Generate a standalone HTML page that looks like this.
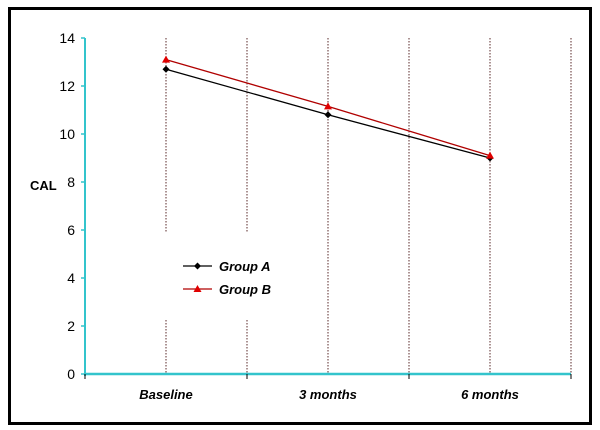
<!DOCTYPE html>
<html><head><meta charset="utf-8"><style>
body{margin:0;background:#fff;}
svg{display:block;font-family:"Liberation Sans",Arial,sans-serif;}
</style></head><body>
<svg width="600" height="430" viewBox="0 0 600 430" xmlns="http://www.w3.org/2000/svg">
<rect x="9.5" y="8.5" width="581" height="415" fill="#fff" stroke="#000" stroke-width="3"/>
<g id="grid"></g>
<rect x="156" y="233" width="102" height="87" fill="#fff"/>
<g id="axes"></g>
<g id="series"></g>
<text x="30" y="190" font-size="13" font-weight="bold">CAL</text>
<g>
  <line x1="183" y1="266" x2="212" y2="266" stroke="#000" stroke-width="1.3"/>
  <path d="M197.5 262.5 L201 266 L197.5 269.5 L194 266 Z" fill="#000"/>
  <text x="219" y="271" font-size="13" font-weight="bold" font-style="italic">Group A</text>
  <line x1="183" y1="289" x2="212" y2="289" stroke="#b00000" stroke-width="1.3"/>
  <path d="M197.5 285 L201.5 292 L193.5 292 Z" fill="#e00000"/>
  <text x="219" y="294" font-size="13" font-weight="bold" font-style="italic">Group B</text>
</g>
</svg>
<script>
const categories = ["Baseline", "3 months", "6 months"];
const groupA = [12.7, 10.8, 9.0];
const groupB = [13.1, 11.15, 9.1];
const yTicks = [0, 2, 4, 6, 8, 10, 12, 14];

const NS = "http://www.w3.org/2000/svg";
const x0 = 85, x1 = 571, y0 = 374, y1 = 38, yMax = 14;
const band = (x1 - x0) / categories.length;
const xPos = i => x0 + band * (i + 0.5);
const yPos = v => y0 - (v / yMax) * (y0 - y1);
function mk(tag, attrs, parent) {
  const e = document.createElementNS(NS, tag);
  for (const k in attrs) e.setAttribute(k, attrs[k]);
  parent.appendChild(e);
  return e;
}
const grid = document.getElementById('grid');
const axes = document.getElementById('axes');
const series = document.getElementById('series');

for (let i = 0; i <= categories.length * 2; i++) {
  const x = x0 + band / 2 * i;
  if (i === 0) continue;
  const l = mk('line', {x1: x, y1: y1, x2: x, y2: y0, stroke: '#5a2a2a', 'stroke-width': 1, 'stroke-dasharray': '1.5,1.5'}, grid);
  
  
}

const ya = mk('line', {x1: x0, y1: y1, x2: x0, y2: y0 + 2, stroke: '#33c4cc', 'stroke-width': 2}, axes);


const xa = mk('line', {x1: x0, y1: y0, x2: x1, y2: y0, stroke: '#33c4cc', 'stroke-width': 2.5}, axes);



yTicks.forEach(v => {
  const y = yPos(v);
  const t = mk('line', {x1: x0 - 4, y1: y, x2: x0, y2: y, stroke: '#33c4cc', 'stroke-width': 1.5}, axes);
  
  
  const lb = mk('text', {x: x0 - 10, y: y + 5, 'text-anchor': 'end', 'font-size': 14}, axes);
  
  
  lb.textContent = v;
});
for (let i = 0; i <= categories.length; i++) {
  const x = x0 + band * i;
  const t = mk('line', {x1: x, y1: y0, x2: x, y2: y0 + 5, stroke: '#000', 'stroke-width': 1}, axes);
  
  
}
categories.forEach((c, i) => {
  const lb = mk('text', {x: xPos(i), y: y0 + 25, 'text-anchor': 'middle', 'font-size': 13, 'font-weight': 'bold', 'font-style': 'italic'}, axes);
  
  
  lb.textContent = c;
});

function drawSeries(vals, color, name, marker) {
  const pts = vals.map((v, i) => xPos(i) + ',' + yPos(v)).join(' ');
  const pl = mk('polyline', {points: pts, fill: 'none', stroke: color, 'stroke-width': 1.3}, series);
  
  
  vals.forEach((v, i) => {
    const x = xPos(i), y = yPos(v);
    const d = marker === 'diamond'
      ? `M${x} ${y-3.5} L${x+3.5} ${y} L${x} ${y+3.5} L${x-3.5} ${y} Z`
      : `M${x} ${y-4} L${x+4} ${y+3} L${x-4} ${y+3} Z`;
    const m = mk('path', {d: d, fill: marker === 'diamond' ? '#000' : '#e00000'}, series);
    
    
  });
}
drawSeries(groupA, '#000', 'group-a', 'diamond');
drawSeries(groupB, '#b00000', 'group-b', 'triangle');
</script>
</body></html>
